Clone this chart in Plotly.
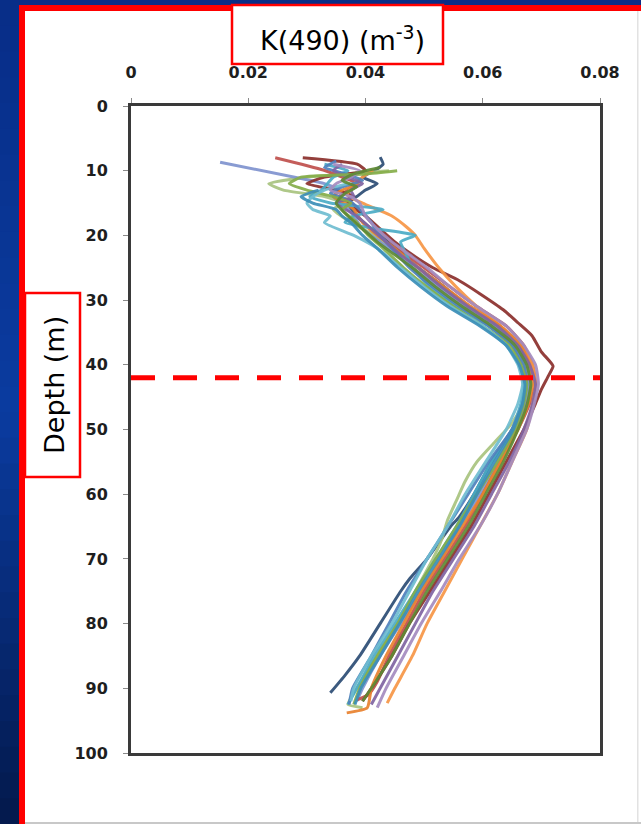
import plotly.graph_objects as go

# ---- axis definitions ----
k_ticks = [0, 0.02, 0.04, 0.06, 0.08]
k_tick_text = ["0", "0.02", "0.04", "0.06", "0.08"]
depth_ticks = [0, 10, 20, 30, 40, 50, 60, 70, 80, 90, 100]
depth_tick_text = ["0", "10", "20", "30", "40", "50", "60", "70", "80", "90", "100"]

# depth of maximum attenuation (dashed marker)
peak_depth = 42

# ---- K(490) profiles: depth (m) and attenuation ----
depth_p01 = [7.9, 9, 10, 11, 12, 13, 14, 15, 17, 19, 21, 23, 25, 28, 31, 34, 37, 40, 43, 46, 50, 55, 60, 63.5, 65, 70, 73, 75, 80, 85, 88, 90.7]
k_p01 = [0.0425, 0.0430, 0.0415, 0.0395, 0.0420, 0.0400, 0.0385, 0.0370, 0.0385, 0.0410, 0.0440, 0.0465, 0.0490, 0.0535, 0.0575, 0.0625, 0.0660, 0.0675, 0.0680, 0.0672, 0.0650, 0.0615, 0.0585, 0.0560, 0.0545, 0.0505, 0.0476, 0.0460, 0.0425, 0.0390, 0.0365, 0.0340]

depth_p02 = [10, 11, 12, 13, 14, 15, 16, 18, 20, 22, 25, 28, 31, 34, 37, 40, 43, 46, 49, 52, 55, 58, 61, 64, 67, 70, 75, 80, 85, 90, 92.5, 93]
k_p02 = [0.0440, 0.0300, 0.0235, 0.0260, 0.0330, 0.0360, 0.0345, 0.0375, 0.0415, 0.0445, 0.0490, 0.0530, 0.0575, 0.0625, 0.0660, 0.0670, 0.0680, 0.0670, 0.0650, 0.0620, 0.0590, 0.0570, 0.0555, 0.0540, 0.0530, 0.0515, 0.0485, 0.0455, 0.0420, 0.0385, 0.0370, 0.0395]

depth_p03 = [8.7, 11.2, 12, 13, 14, 15, 17, 19, 21, 23, 25, 28, 31, 34, 37, 40, 43, 46, 50, 55, 60, 65, 70, 75, 80, 85, 90, 92]
k_p03 = [0.0152, 0.0290, 0.0330, 0.0355, 0.0345, 0.0360, 0.0380, 0.0395, 0.0425, 0.0455, 0.0480, 0.0525, 0.0570, 0.0620, 0.0655, 0.0675, 0.0680, 0.0672, 0.0655, 0.0625, 0.0595, 0.0560, 0.0530, 0.0495, 0.0460, 0.0425, 0.0395, 0.0385]

depth_p04 = [8.0, 9.9, 11, 12, 13, 14, 15, 17, 19, 21, 23, 25, 28, 31, 34, 37, 40, 43, 46, 50, 55, 60, 65, 70, 75, 80, 85, 89, 91, 91.8]
k_p04 = [0.0246, 0.0328, 0.0360, 0.0385, 0.0370, 0.0355, 0.0375, 0.0400, 0.0420, 0.0445, 0.0470, 0.0500, 0.0545, 0.0590, 0.0640, 0.0670, 0.0685, 0.0690, 0.0680, 0.0660, 0.0630, 0.0600, 0.0570, 0.0535, 0.0500, 0.0470, 0.0440, 0.0420, 0.0405, 0.0385]

depth_p05 = [8.0, 9, 10, 11, 12, 13, 14, 15, 17, 19, 21, 23, 25, 27, 29, 31.5, 33.5, 35.5, 38, 40.2, 41.7, 43.8, 46, 50, 55, 60, 65, 70, 75, 80, 85, 90, 92]
k_p05 = [0.0293, 0.0386, 0.0400, 0.0330, 0.0300, 0.0350, 0.0380, 0.0370, 0.0400, 0.0425, 0.0450, 0.0480, 0.0515, 0.0560, 0.0595, 0.0635, 0.0660, 0.0684, 0.0700, 0.0720, 0.0712, 0.0700, 0.0690, 0.0670, 0.0640, 0.0610, 0.0580, 0.0545, 0.0510, 0.0475, 0.0445, 0.0410, 0.0395]

depth_p06 = [9.9, 11, 12, 13.8, 15, 16, 17, 18.7, 20, 22, 25, 28, 31, 34, 37, 40, 43, 46, 50, 55, 60, 65, 70, 75, 80, 85, 90, 92.3]
k_p06 = [0.0413, 0.0395, 0.0380, 0.0369, 0.0395, 0.0420, 0.0445, 0.0470, 0.0485, 0.0500, 0.0525, 0.0555, 0.0590, 0.0630, 0.0665, 0.0685, 0.0690, 0.0685, 0.0675, 0.0650, 0.0625, 0.0595, 0.0565, 0.0535, 0.0505, 0.0480, 0.0450, 0.0437]

depth_p07 = [12, 13, 14, 15, 16, 18, 20, 22, 25, 28, 31, 34, 37, 40, 43, 46, 50, 55, 60, 65, 70, 75, 80, 85, 90, 93, 93.8]
k_p07 = [0.0390, 0.0360, 0.0345, 0.0365, 0.0380, 0.0395, 0.0420, 0.0450, 0.0490, 0.0535, 0.0580, 0.0630, 0.0665, 0.0680, 0.0685, 0.0678, 0.0660, 0.0630, 0.0600, 0.0565, 0.0530, 0.0495, 0.0465, 0.0435, 0.0410, 0.0403, 0.0368]

depth_p08 = [9, 10, 11, 12, 13, 14, 15, 16, 17, 18, 19, 20, 21, 23, 25, 28, 31, 34, 37, 40, 43, 46, 50, 55, 60, 65, 70, 75, 80, 85, 90, 92.5]
k_p08 = [0.0330, 0.0370, 0.0345, 0.0335, 0.0325, 0.0305, 0.0340, 0.0430, 0.0380, 0.0365, 0.0420, 0.0485, 0.0460, 0.0470, 0.0480, 0.0510, 0.0555, 0.0610, 0.0650, 0.0665, 0.0670, 0.0665, 0.0650, 0.0615, 0.0585, 0.0555, 0.0520, 0.0485, 0.0450, 0.0415, 0.0385, 0.0370]

depth_p09 = [8.5, 9.5, 10.5, 11.5, 12.5, 13.5, 14.5, 16, 18, 20, 22, 25, 28, 31, 34, 37, 40, 43, 46, 50, 55, 60, 65, 70, 75, 80, 85, 90, 92.5]
k_p09 = [0.0350, 0.0330, 0.0365, 0.0395, 0.0360, 0.0340, 0.0370, 0.0390, 0.0410, 0.0425, 0.0445, 0.0475, 0.0515, 0.0560, 0.0610, 0.0650, 0.0670, 0.0675, 0.0668, 0.0650, 0.0610, 0.0575, 0.0540, 0.0505, 0.0470, 0.0440, 0.0410, 0.0378, 0.0372]

depth_p10 = [9, 10, 11, 12, 13, 14, 15, 17, 19, 21, 23, 25, 28, 31, 34, 37, 40, 43, 46, 50, 55, 60, 65, 70, 75, 80, 85, 90, 92.5]
k_p10 = [0.0360, 0.0345, 0.0370, 0.0395, 0.0375, 0.0380, 0.0350, 0.0385, 0.0410, 0.0435, 0.0460, 0.0490, 0.0530, 0.0575, 0.0625, 0.0660, 0.0680, 0.0690, 0.0685, 0.0670, 0.0645, 0.0615, 0.0585, 0.0550, 0.0515, 0.0485, 0.0455, 0.0425, 0.0410]

depth_p11 = [10, 10.5, 11, 12, 13, 14, 15, 16, 18, 20, 22, 25, 28, 31, 34, 37, 40, 43, 46, 50, 55, 60, 65, 70, 75, 80, 85, 90, 92.5]
k_p11 = [0.0454, 0.0400, 0.0290, 0.0270, 0.0300, 0.0345, 0.0375, 0.0360, 0.0385, 0.0405, 0.0430, 0.0465, 0.0505, 0.0550, 0.0600, 0.0645, 0.0665, 0.0675, 0.0670, 0.0655, 0.0625, 0.0590, 0.0555, 0.0520, 0.0485, 0.0455, 0.0420, 0.0390, 0.0380]

depth_p12 = [12, 13, 14, 15, 16, 17, 18, 20, 22, 25, 28, 31, 34, 37, 40, 43, 46, 50, 55, 60, 65, 70, 75, 80, 85, 90, 92]
k_p12 = [0.0370, 0.0330, 0.0310, 0.0300, 0.0310, 0.0340, 0.0330, 0.0380, 0.0420, 0.0460, 0.0500, 0.0545, 0.0600, 0.0640, 0.0660, 0.0668, 0.0660, 0.0640, 0.0605, 0.0570, 0.0540, 0.0505, 0.0475, 0.0445, 0.0410, 0.0380, 0.0375]

depth_p13 = [9, 10, 11, 12, 13, 14, 15, 17, 19, 21, 23, 25, 28, 31, 34, 37, 40, 43, 46, 50, 55, 60, 65, 70, 75, 80, 85, 90, 93]
k_p13 = [0.0345, 0.0390, 0.0375, 0.0350, 0.0340, 0.0375, 0.0390, 0.0400, 0.0420, 0.0445, 0.0475, 0.0505, 0.0545, 0.0590, 0.0640, 0.0670, 0.0690, 0.0695, 0.0688, 0.0675, 0.0650, 0.0625, 0.0595, 0.0560, 0.0528, 0.0495, 0.0465, 0.0435, 0.0420]

depth_p14 = [9.5, 10.5, 11.5, 12.5, 13.5, 15, 17, 19, 21, 23, 25, 28, 31, 34, 37, 40, 43, 46, 50, 55, 60, 65, 70, 75, 80, 85, 90, 92]
k_p14 = [0.0425, 0.0380, 0.0360, 0.0385, 0.0365, 0.0350, 0.0370, 0.0395, 0.0420, 0.0450, 0.0480, 0.0520, 0.0565, 0.0615, 0.0655, 0.0675, 0.0682, 0.0676, 0.0660, 0.0635, 0.0605, 0.0575, 0.0540, 0.0505, 0.0475, 0.0445, 0.0410, 0.0395]

depth_p15 = [13, 14, 15, 16, 17, 18, 20, 22, 25, 28, 31, 34, 37, 40, 43, 46, 50, 55, 60, 65, 70, 75, 80, 85, 90, 92.5]
k_p15 = [0.0320, 0.0290, 0.0310, 0.0350, 0.0360, 0.0375, 0.0395, 0.0420, 0.0455, 0.0495, 0.0540, 0.0595, 0.0640, 0.0662, 0.0672, 0.0668, 0.0652, 0.0620, 0.0590, 0.0560, 0.0525, 0.0490, 0.0458, 0.0425, 0.0392, 0.0382]

profiles = [
    (depth_p01, k_p01, "#2C4D75"),
    (depth_p02, k_p02, "#A9C47F"),
    (depth_p03, k_p03, "#7F93CF"),
    (depth_p04, k_p04, "#C0504D"),
    (depth_p05, k_p05, "#8B2F2C"),
    (depth_p06, k_p06, "#F79646"),
    (depth_p07, k_p07, "#E9822F"),
    (depth_p08, k_p08, "#4BACC6"),
    (depth_p09, k_p09, "#4F81BD"),
    (depth_p10, k_p10, "#8064A2"),
    (depth_p11, k_p11, "#86AE4A"),
    (depth_p12, k_p12, "#6FBDD1"),
    (depth_p13, k_p13, "#A48CC0"),
    (depth_p14, k_p14, "#5F8A35"),
    (depth_p15, k_p15, "#3C8FB8"),
]

fig = go.Figure()
for d, k, c in profiles:
    fig.add_trace(go.Scatter(
        x=k, y=d, mode="lines",
        line=dict(color=c, width=3, shape="spline", smoothing=0.5),
        opacity=0.92, hoverinfo="skip", showlegend=False,
    ))

# dashed marker at the depth of maximum attenuation
fig.add_trace(go.Scatter(
    x=[k_ticks[0], k_ticks[-1]], y=[peak_depth, peak_depth], mode="lines",
    line=dict(color="#FF0000", width=5, dash="24px,18px"),
    hoverinfo="skip", showlegend=False, cliponaxis=False,
))

# ---- page geometry (pixels) ----
W, H = 641, 824
L, R, T, B = 131, 600, 106, 753


def px(x):
    return (x - L) / (R - L)


def py(y):
    return (B - y) / (B - T)


shapes = []


def rect(x0, y0, x1, y1, fill=None, line_color=None, line_width=0):
    shapes.append(dict(
        type="rect", xref="paper", yref="paper", layer="below",
        x0=px(x0), x1=px(x1), y0=py(y1), y1=py(y0),
        fillcolor=fill if fill else "rgba(0,0,0,0)",
        line=dict(color=line_color if line_color else "rgba(0,0,0,0)", width=line_width),
    ))


# dark blue slide background shading down the left edge
bands = 32
top_c, mid_c, bot_c = (8, 46, 136), (11, 60, 160), (4, 26, 78)
for i in range(bands):
    t = i / (bands - 1)
    if t < 0.5:
        a, b_, u = top_c, mid_c, t / 0.5
    else:
        a, b_, u = mid_c, bot_c, (t - 0.5) / 0.5
    col = "rgb(%d,%d,%d)" % tuple(int(a[j] + (b_[j] - a[j]) * u) for j in range(3))
    rect(-2, i * H / bands, 19, (i + 1) * H / bands + 1, fill=col)

# red-edged white panel
rect(19, 5, 660, 840, fill="#FF0000")
rect(25, 11, 660, 822, fill="#FFFFFF")
rect(25, 822, 660, 824, fill="#C8C8C8")
rect(637, 11, 638.5, 822, fill="#E2E2E2")

# title boxes
rect(232, 5, 443, 64, fill="#FFFFFF", line_color="#FF0000", line_width=2.5)
rect(25, 293, 80, 477, fill="#FFFFFF", line_color="#FF0000", line_width=2.5)

annotations = [
    dict(text="K(490) (m<sup>-3</sup>)", xref="paper", yref="paper",
         x=px(342), y=py(38), xanchor="center", yanchor="middle", showarrow=False,
         font=dict(family="DejaVu Sans", size=27, color="#000000")),
    dict(text="Depth (m)", xref="paper", yref="paper", textangle=-90,
         x=px(54), y=py(385), xanchor="center", yanchor="middle", showarrow=False,
         font=dict(family="DejaVu Sans", size=27, color="#000000")),
]

tick_font = dict(family="DejaVu Sans", size=16, color="#1E1E1E", weight="bold")

fig.update_layout(
    width=W, height=H,
    margin=dict(l=L, r=W - R, t=T, b=H - B, pad=0),
    paper_bgcolor="#0A2D86",
    plot_bgcolor="#FFFFFF",
    shapes=shapes,
    annotations=annotations,
    showlegend=False,
    xaxis=dict(
        side="top", range=[k_ticks[0], k_ticks[-1]], tickvals=k_ticks, ticktext=k_tick_text,
        showgrid=False, zeroline=False, showline=True, linecolor="#3A3A3A", linewidth=3,
        mirror=True, ticks="outside", ticklen=5, tickcolor="#8A8A8A", tickwidth=1,
        tickfont=tick_font, ticklabelstandoff=14,
    ),
    yaxis=dict(
        range=[depth_ticks[-1], depth_ticks[0]], tickvals=depth_ticks, ticktext=depth_tick_text,
        showgrid=False, zeroline=False, showline=True, linecolor="#3A3A3A", linewidth=3,
        mirror=True, ticks="outside", ticklen=5, tickcolor="#8A8A8A", tickwidth=1,
        tickfont=tick_font, ticklabelstandoff=12,
    ),
)

fig.write_html("out.html")
